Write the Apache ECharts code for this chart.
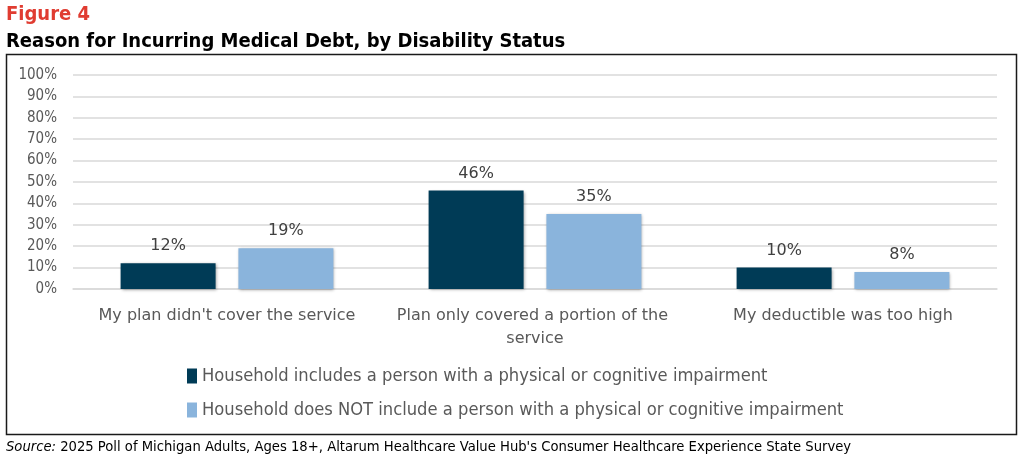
<!DOCTYPE html>
<html><head><meta charset="utf-8">
<script src="https://cdn.jsdelivr.net/npm/echarts@6/dist/echarts.min.js"></script>
<style>html,body{margin:0;padding:0;background:#fff;}#c{width:1024px;height:455px;}</style>
</head><body><div id="c"></div>
<script>
const categories = ["My plan didn't cover the service", "Plan only covered a portion of the service", "My deductible was too high"];
const seriesNames = ["Household includes a person with a physical or cognitive impairment", "Household does NOT include a person with a physical or cognitive impairment"];
const withImpairment = [12, 46, 10];
const withoutImpairment = [19, 35, 8];
const yTicks = [0, 10, 20, 30, 40, 50, 60, 70, 80, 90, 100];

const NARROW = "'DejaVu Sans Condensed', Roboto, sans-serif";
const chart = echarts.init(document.getElementById('c'));
const colors = ['#003b56', '#8ab4dc'];
function barSeries(name, data, color) {
  return {
    name: name, type: 'bar', data: data, barWidth: 95, barGap: '24%',
    itemStyle: { color: color, shadowBlur: 3, shadowColor: 'rgba(0,0,0,0.35)', shadowOffsetX: 1, shadowOffsetY: 1 },
    label: { show: true, position: 'top', distance: 9, formatter: '{c}%', color: '#404040', fontSize: 16, fontFamily: 'DejaVu Sans' }
  };
}
chart.setOption({
  animation: false,
  color: colors,
  title: [
    { text: 'Figure 4', left: 1, top: 0, textStyle: { color: '#e03c31', fontSize: 20, fontWeight: 'bold', fontFamily: NARROW } },
    { text: 'Reason for Incurring Medical Debt, by Disability Status', left: 1, top: 27, textStyle: { color: '#000', fontSize: 20, fontWeight: 'bold', fontFamily: NARROW } },
    { text: '{i|Source:} 2025 Poll of Michigan Adults, Ages 18+, Altarum Healthcare Value Hub\'s Consumer Healthcare Experience State Survey', left: 1, top: 435,
      textStyle: { color: '#000', fontSize: 14.65, fontWeight: 'normal', fontFamily: NARROW,
        rich: { i: { fontStyle: 'italic', fontSize: 14.65, fontFamily: NARROW, color: '#000' } } } }
  ],
  graphic: [
    { type: 'rect', shape: { x: 6.5, y: 54.5, width: 1010, height: 380 }, style: { fill: 'none', stroke: '#1a1a1a', lineWidth: 1.5 }, z: -1 }
  ],
  legend: {
    orient: 'vertical', left: 182, top: 362, itemWidth: 10, itemHeight: 15, itemGap: 16,
    icon: 'rect',
    textStyle: { color: '#595959', fontSize: 18.2, fontFamily: NARROW },
    data: seriesNames
  },
  grid: { left: 73, right: 27, top: 75, bottom: 166, containLabel: false },
  xAxis: {
    type: 'category', data: categories,
    axisLine: { lineStyle: { color: '#d9d9d9', width: 1.5 } },
    axisTick: { show: false },
    axisLabel: { color: '#595959', fontSize: 16, fontFamily: 'DejaVu Sans', margin: 15, lineHeight: 23, width: 300, overflow: 'break', interval: 0 }
  },
  yAxis: {
    type: 'value', min: yTicks[0], max: yTicks[yTicks.length - 1], interval: 10,
    axisLine: { show: false }, axisTick: { show: false },
    axisLabel: { formatter: '{value}%', color: '#595959', fontSize: 15, fontFamily: NARROW, margin: 16 },
    splitLine: { lineStyle: { color: '#d9d9d9', width: 1.5 } }
  },
  series: [barSeries(seriesNames[0], withImpairment, colors[0]), barSeries(seriesNames[1], withoutImpairment, colors[1])]
});
</script></body></html>
